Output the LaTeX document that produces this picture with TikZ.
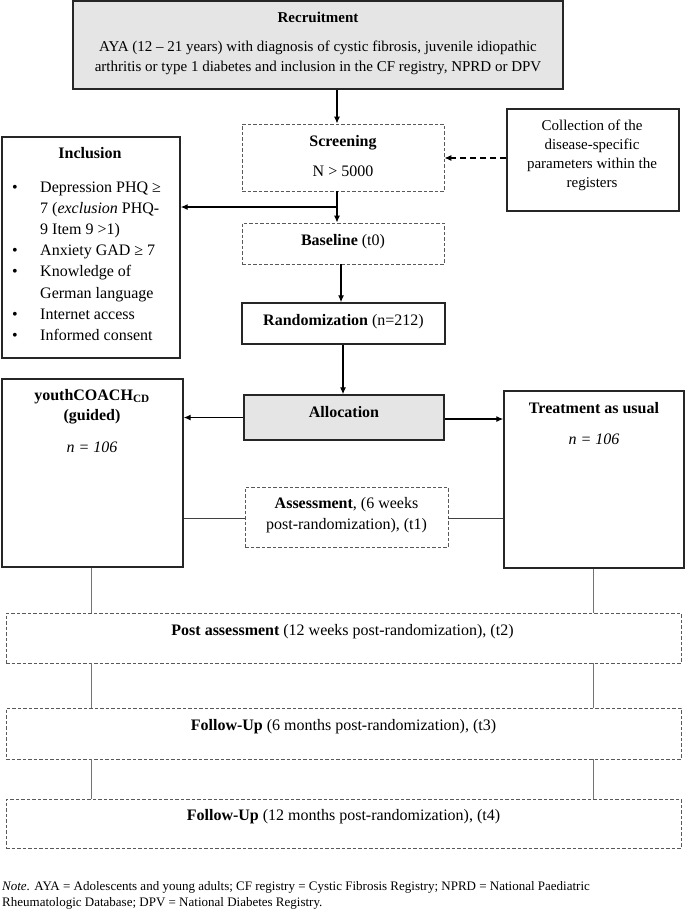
\documentclass[tikz,border=0pt]{standalone}
\usepackage{fontspec}
\setmainfont{Liberation Serif}
\usetikzlibrary{arrows.meta}
\begin{document}
\begin{tikzpicture}[x=1pt,y=-1pt,
  solidbox/.style={draw=black!85, line width=1.4pt, inner sep=0pt},
  thinbox/.style={draw=black!85, line width=1.1pt, inner sep=0pt},
  dashbox/.style={draw=black!65, line width=0.8pt, dash pattern=on 3.5pt off 2pt, inner sep=0pt},
  graybox/.style={solidbox, fill=black!10},
  arr/.style={draw=black, line width=1.2pt, -{Latex[length=7pt,width=6pt]}},
  dasharr/.style={arr, dash pattern=on 6pt off 4pt},
  link/.style={draw=black!55, line width=1pt},
  hlink/.style={draw=black!75, line width=0.8pt},
  txt/.style={font=\fontsize{16}{20}\selectfont, anchor=base, inner sep=0pt},
  txtl/.style={txt, anchor=base west},
  stxt/.style={font=\fontsize{15}{19}\selectfont, anchor=base, inner sep=0pt},
  ntxt/.style={font=\fontsize{13}{16}\selectfont, anchor=base west, inner sep=0pt}
]
\useasboundingbox (0,0) rectangle (685,911);

% boxes
\node[graybox, minimum width=490pt, minimum height=88pt] (rec) at (318,45) {};
\node[dashbox, minimum width=202pt, minimum height=67pt] (scr) at (343,157.5) {};
\node[thinbox, minimum width=172pt, minimum height=102pt] (col) at (593,160) {};
\node[solidbox, minimum width=178pt, minimum height=221pt] (inc) at (91,247.5) {};
\node[dashbox, minimum width=202pt, minimum height=41pt] (base) at (343,243.5) {};
\node[solidbox, minimum width=203pt, minimum height=41pt] (rand) at (343.5,323.5) {};
\node[graybox, minimum width=200pt, minimum height=45pt] (alloc) at (344,417.5) {};
\node[solidbox, minimum width=181pt, minimum height=188pt] (youth) at (92.5,473) {};
\node[solidbox, minimum width=180pt, minimum height=177pt] (treat) at (594,479.5) {};
\node[dashbox, minimum width=203pt, minimum height=60pt] (assess) at (346.5,517) {};
\node[dashbox, minimum width=675pt, minimum height=50pt] (post) at (343.5,638) {};
\node[dashbox, minimum width=675pt, minimum height=51pt] (fu6) at (343.5,733.5) {};
\node[dashbox, minimum width=675pt, minimum height=49pt] (fu12) at (343.5,823.5) {};

% texts
\node[stxt] (recT) at (318,22) {\textbf{Recruitment}};
\node[stxt] (recA) at (318,51) {AYA (12 – 21 years) with diagnosis of cystic fibrosis, juvenile idiopathic};
\node[stxt] (recB) at (318,71) {arthritis or type 1 diabetes and inclusion in the CF registry, NPRD or DPV};

\node[txt] (scrT) at (343,146) {\textbf{Screening}};
\node[txt] (scrN) at (343,176) {N > 5000};

\node[stxt] (colA) at (592,130) {Collection of the};
\node[stxt] (colB) at (592,149) {disease-specific};
\node[stxt] (colC) at (592,168) {parameters within the};
\node[stxt] (colD) at (592,187) {registers};

\node[txt] (incT) at (90,158) {\textbf{Inclusion}};
\node[txt] (b1) at (15,192) {\textbullet};
\node[txtl] (i1) at (40,192) {Depression PHQ ≥};
\node[txtl] (i2) at (40,213) {7 (\textit{exclusion} PHQ-};
\node[txtl] (i3) at (40,234) {9 Item 9 >1)};
\node[txt] (b4) at (15,255) {\textbullet};
\node[txtl] (i4) at (40,255) {Anxiety GAD ≥ 7};
\node[txt] (b5) at (15,276) {\textbullet};
\node[txtl] (i5) at (40,276) {Knowledge of};
\node[txtl] (i6) at (40,298) {German language};
\node[txt] (b7) at (15,319) {\textbullet};
\node[txtl] (i7) at (40,319) {Internet access};
\node[txt] (b8) at (15,340) {\textbullet};
\node[txtl] (i8) at (40,340) {Informed consent};

\node[txt] (baseT) at (343,245) {\textbf{Baseline} (t0)};
\node[txt] (randT) at (343.5,325) {\textbf{Randomization} (n=212)};
\node[txt] (allocT) at (344,417) {\textbf{Allocation}};

\node[txt] (youthA) at (92,400) {\textbf{youthCOACH\textsubscript{CD}}};
\node[txt] (youthB) at (92,420) {\textbf{(guided)}};
\node[txt] (youthN) at (92,452) {\textit{n = 106}};

\node[txt] (treatA) at (594,413) {\textbf{Treatment as usual}};
\node[txt] (treatN) at (594,444) {\textit{n = 106}};

\node[txt] (assA) at (346.5,508) {\textbf{Assessment}, (6 weeks};
\node[txt] (assB) at (346.5,529) {post-randomization), (t1)};

\node[txt] (postT) at (342.5,635) {\textbf{Post assessment} (12 weeks post-randomization), (t2)};
\node[txt] (fu6T) at (343.5,730) {\textbf{Follow-Up} (6 months post-randomization), (t3)};
\node[txt] (fu12T) at (343.5,820) {\textbf{Follow-Up} (12 months post-randomization), (t4)};

\node[ntxt] (noteA) at (2,890) {\textit{Note.} AYA = Adolescents and young adults; CF registry = Cystic Fibrosis Registry; NPRD = National Paediatric};
\node[ntxt] (noteB) at (2,906) {Rheumatologic Database; DPV = National Diabetes Registry.};

% connectors
\coordinate (xa) at (337,0);
\coordinate (xb) at (341,0);
\coordinate (xc) at (343,0);
\coordinate (br) at (337,207);
\coordinate (xl) at (91,0);
\coordinate (xr) at (593,0);

\draw[arr] (rec.south -| xa) -- (scr.north -| xa);
\draw[arr] (scr.south -| xa) -- (base.north -| xa);
\draw[arr] (br) -- (br -| inc.east);
\draw[dasharr] (col.west |- 0,158) -- (scr.east |- 0,158);
\draw[arr] (base.south -| xb) -- (rand.north -| xb);
\draw[arr] (rand.south -| xc) -- (alloc.north -| xc);
\draw[arr] (alloc.west) -- (alloc.west -| youth.east);
\draw[arr] (alloc.east |- 0,419) -- (treat.west |- 0,419);
\draw[hlink] (assess.west |- 0,518.5) -- (youth.east |- 0,518.5);
\draw[hlink] (assess.east |- 0,518.5) -- (treat.west |- 0,518.5);

\draw[link] (youth.south -| xl) -- (post.north -| xl);
\draw[link] (treat.south -| xr) -- (post.north -| xr);
\draw[link] (post.south -| xl) -- (fu6.north -| xl);
\draw[link] (post.south -| xr) -- (fu6.north -| xr);
\draw[link] (fu6.south -| xl) -- (fu12.north -| xl);
\draw[link] (fu6.south -| xr) -- (fu12.north -| xr);
\end{tikzpicture}
\end{document}
